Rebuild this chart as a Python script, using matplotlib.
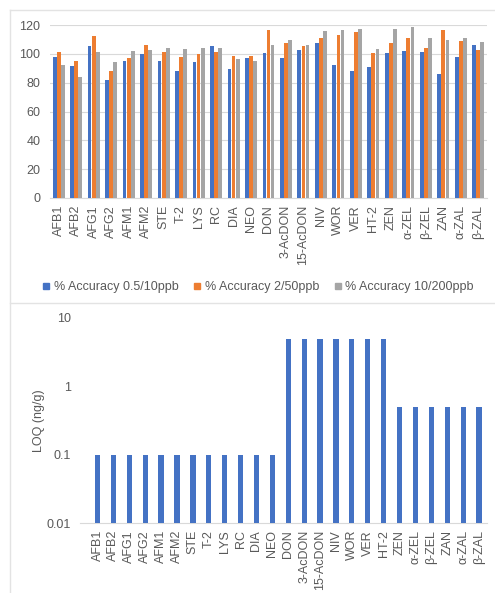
"""Accuracy of mycotoxin standards (top) and LOQ per analyte (bottom)."""
import numpy as np
import matplotlib
matplotlib.use('Agg')
import matplotlib.pyplot as plt
from matplotlib.lines import Line2D
from matplotlib.ticker import FixedLocator, FixedFormatter, NullLocator

plt.rcParams['font.family'] = ['Liberation Sans', 'DejaVu Sans']

analytes = ['AFB1', 'AFB2', 'AFG1', 'AFG2', 'AFM1', 'AFM2', 'STE', 'T-2', 'LYS', 'RC',
            'DIA', 'NEO', 'DON', '3-AcDON', '15-AcDON', 'NIV', 'WOR', 'VER', 'HT-2', 'ZEN',
            'α-ZEL', 'β-ZEL', 'ZAN', 'α-ZAL', 'β-ZAL']

acc_low = [97.7, 91.6, 105.2, 81.9, 95.3, 100.0, 95.1, 88.4, 94.0, 105.1,
           89.3, 97.0, 100.9, 96.8, 102.8, 107.2, 92.4, 88.0, 90.8, 100.9,
           102.3, 101.6, 86.1, 97.7, 106.0]
acc_mid = [101.6, 95.0, 112.3, 88.4, 97.2, 106.0, 101.0, 97.7, 99.8, 101.6,
           98.6, 98.4, 116.3, 107.4, 105.5, 111.3, 112.9, 115.0, 100.5, 107.2,
           110.9, 103.7, 116.2, 108.8, 102.8]
acc_high = [92.3, 84.0, 101.4, 94.4, 101.9, 102.8, 104.2, 103.3, 104.2, 103.7,
            96.7, 95.2, 106.2, 109.7, 106.2, 115.5, 116.2, 117.0, 103.5, 117.0,
            118.5, 111.3, 109.7, 111.3, 107.9]
series_names = ['% Accuracy 0.5/10ppb', '% Accuracy 2/50ppb', '% Accuracy 10/200ppb']

loq = [0.1] * 12 + [5] * 7 + [0.5] * 6

BLUE = '#4472C4'
ORANGE = '#ED7D31'
GRAY = '#A5A5A5'
TXT = '#595959'
GRID = '#D9D9D9'


def fig_box(px_left, px_top, px_right, px_bottom, W=495, H=593):
    return [px_left / W, 1 - px_bottom / H, (px_right - px_left) / W, (px_bottom - px_top) / H]


def draw_accuracy(fig):
    ax = fig.add_axes(fig_box(50, 25, 487, 198))
    x = np.arange(len(analytes))
    w = 0.235
    cols = [BLUE, ORANGE, GRAY]
    for i, vals in enumerate([acc_low, acc_mid, acc_high]):
        ax.bar(x + (i - 1) * w, vals, width=w * 0.92, color=cols[i], zorder=3)
    ax.set_xlim(-0.5, len(analytes) - 0.5)
    ax.set_ylim(0, 120)
    ax.set_yticks(range(0, 121, 20))
    ax.set_xticks(x)
    ax.set_xticklabels(analytes, rotation=90)
    ax.grid(axis='y', color=GRID, lw=0.8, zorder=0)
    for s in ['top', 'right', 'left']:
        ax.spines[s].set_visible(False)
    ax.spines['bottom'].set_color(GRID)
    ax.tick_params(length=0, labelsize=9, colors=TXT)
    ax.tick_params(axis='y', pad=7)
    ax.tick_params(axis='x', pad=5)

    handles = [Line2D([], [], ls='none', marker='s', ms=4, color=c) for c in cols]
    fig.legend(handles, series_names, loc='center', bbox_to_anchor=(258 / 495, 1 - 287 / 593),
               ncol=3, frameon=False, fontsize=9, labelcolor=TXT, handlelength=0.6,
               handletextpad=0.3, columnspacing=1.2)
    return ax


def draw_loq(fig):
    ax = fig.add_axes(fig_box(80, 318, 487, 523))
    x = np.arange(len(analytes))
    ax.bar(x, loq, width=0.33, color=BLUE, zorder=3)
    ax.set_yscale('log')
    ax.set_ylim(0.01, 10)
    ax.set_xlim(-1.1, len(analytes) - 0.5)
    ax.yaxis.set_major_locator(FixedLocator([0.01, 0.1, 1, 10]))
    ax.yaxis.set_major_formatter(FixedFormatter(['0.01', '0.1', '1', '10']))
    ax.yaxis.set_minor_locator(NullLocator())
    ax.set_xticks(x)
    ax.set_xticklabels(analytes, rotation=90)
    for s in ['top', 'right', 'left']:
        ax.spines[s].set_visible(False)
    ax.spines['bottom'].set_color(GRID)
    ax.tick_params(length=0, labelsize=9, colors=TXT)
    ax.tick_params(axis='y', pad=6.5)
    ax.tick_params(axis='x', pad=5)
    ax.set_ylabel('LOQ (ng/g)', fontsize=9, color=TXT, labelpad=1)
    return ax


def main():
    fig = plt.figure(figsize=(4.95, 5.93), dpi=100)
    fig.patch.set_facecolor('white')
    # panel frames like the pasted office charts
    W, H = 495, 593
    for (xs, ys) in [([9.5, 9.5], [9.5, 593]), ([9.5, 495], [9.5, 9.5]), ([9.5, 495], [303, 303])]:
        fig.add_artist(Line2D([v / W for v in xs], [1 - v / H for v in ys], color='#E3E3E3', lw=1))

    draw_accuracy(fig)
    draw_loq(fig)
    fig.savefig('out.png', dpi=100)


if __name__ == '__main__':
    main()
